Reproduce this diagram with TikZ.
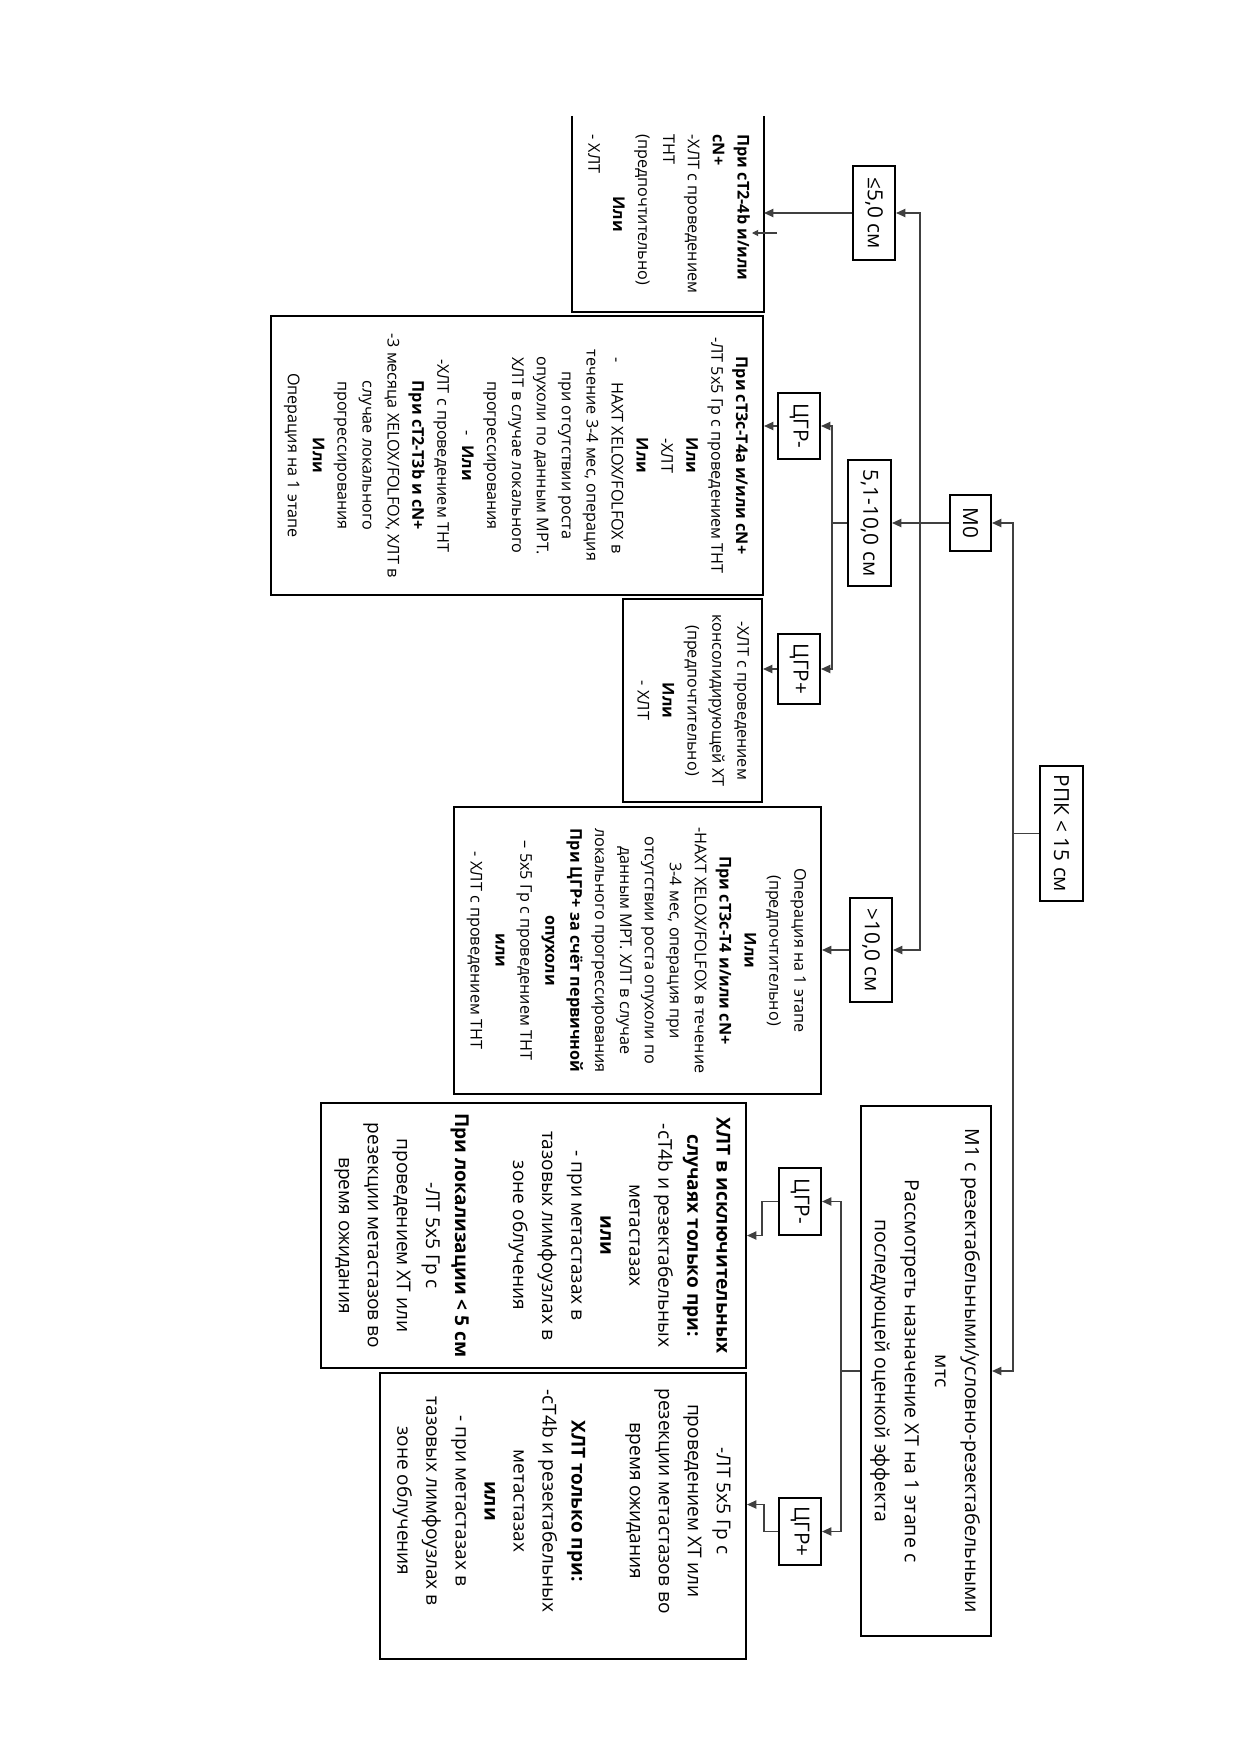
\documentclass[tikz,border=0pt]{standalone}
\usepackage{fontspec}
\setmainfont{Open Sans}
\usepackage{graphicx}
\usetikzlibrary{arrows.meta,calc}
\newlength\PX \setlength\PX{0.16935mm}
\newcommand\rtab[4]{\rotatebox{-90}{\fontsize{#1}{#2}\selectfont\begin{tabular}{@{}#3@{}}#4\end{tabular}}}
\newcommand\lab[1]{\rotatebox{-90}{\fontsize{10}{12}\selectfont #1}}
\begin{document}
\begin{tikzpicture}[x=0.16935mm,y=-0.16935mm,
  bx/.style 2 args={draw,line width=1pt,inner sep=0pt,minimum width=#1*\PX,minimum height=#2*\PX},
  conn/.style={line width=0.6pt,draw=black!75,-{Triangle[length=4.5pt,width=4pt]}},
  ln/.style={line width=0.6pt,draw=black!75}]
\useasboundingbox[fill=white] (0,0) rectangle (1240,1754);

% --- label boxes
\node[bx={43}{135}] (rpk) at (1061.5,833.5) {\lab{РПК < 15 см}};
\node[bx={41}{56}]  (m0)  at (970.5,523) {\lab{M0}};
\node[bx={42}{94}]  (r1)  at (874,213) {\lab{≤5,0 см}};
\node[bx={43}{126}] (r2)  at (869.5,523) {\lab{5,1-10,0 см}};
\node[bx={42}{104}] (r3)  at (871,950) {\lab{>10,0 см}};
\node[bx={42}{66}]  (g1)  at (799,426) {\lab{ЦГР-}};
\node[bx={42}{70}]  (g2)  at (799,669) {\lab{ЦГР+}};
\node[bx={42}{67}]  (g3)  at (800,1201.5) {\lab{ЦГР-}};
\node[bx={42}{67}]  (g4)  at (800,1531.5) {\lab{ЦГР+}};

% --- text boxes
\node[bx={190}{194},draw=none] (A) at (668,214) {\rtab{7.8}{12}{l}{%
\textbf{При cT2-4b и/или}\\
\textbf{cN+}\\
-ХЛТ с проведением\\
ТНТ\\
(предпочтительно)\\
\multicolumn{1}{c}{\textbf{Или}}\\
- ХЛТ}};
\draw[line width=1pt] (A.north west) -- (A.south west) -- (A.south east) -- (A.north east);

\node[bx={492}{279}] (B) at (517,455.5) {\rtab{7.8}{12}{c}{%
\textbf{При cT3c-T4a и/или cN+}\\
-ЛТ 5x5 Гр с проведением ТНТ\\
\textbf{Или}\\
-ХЛТ\\
\textbf{Или}\\
-\hspace{1.2em}НАХТ XELOX/FOLFOX в\\
течение 3-4 мес, операция\\
при отсутствии роста\\
опухоли по данным МРТ.\\
ХЛТ в случае локального\\
прогрессирования\\
-\hspace{0.6em}\textbf{Или}\\
-ХЛТ с проведением ТНТ\\
\textbf{При cT2-T3b и cN+}\\
-3 месяца XELOX/FOLFOX, ХЛТ в\\
случае локального\\
прогрессирования\\
\textbf{Или}\\
Операция на 1 этапе}};

\node[bx={139}{203}] (C) at (692.5,700.5) {\rtab{7.8}{12}{c}{%
-ХЛТ с проведением\\
консолидирующей ХТ\\
(предпочтительно)\\
\textbf{Или}\\
- ХЛТ}};

\node[bx={367}{287}] (D) at (637.5,950.5) {\rtab{7.8}{12}{c}{%
Операция на 1 этапе\\
(предпочтительно)\\
\textbf{Или}\\
\textbf{При cT3c-T4 и/или cN+}\\
-НАХТ XELOX/FOLFOX в течение\\
3-4 мес, операция при\\
отсутствии роста опухоли по\\
данным МРТ. ХЛТ в случае\\
локального прогрессирования\\
\textbf{При ЦГР+ за счёт первичной}\\
\textbf{опухоли}\\
– 5x5 Гр с проведением ТНТ\\
\textbf{или}\\
- ХЛТ с проведением ТНТ}};

\node[bx={130}{530}] (m1) at (926,1371) {\rtab{9.4}{14.5}{c}{%
M1 с резектабельными/условно-резектабельными\\
мтс\\
Рассмотреть назначение ХТ на 1 этапе с\\
последующей оценкой эффекта}};

\node[bx={425}{265}] (E) at (533.5,1235.5) {\rtab{9.2}{14}{c}{%
\textbf{ХЛТ в исключительных}\\
\textbf{случаях только при:}\\
-cT4b и резектабельных\\
метастазах\\
\textbf{или}\\
- при метастазах в\\
тазовых лимфоузлах в\\
зоне облучения\\
\\
\textbf{При локализации < 5 см}\\
-ЛТ 5x5 Гр с\\
проведением ХТ или\\
резекции метастазов во\\
время ожидания}};

\node[bx={366}{286}] (F) at (563,1516) {\rotatebox{-90}{\fontsize{9.2}{14}\selectfont\begin{tabular}{@{}c@{\hspace{30\PX}}}%
-ЛТ 5x5 Гр с\\
проведением ХТ или\\
резекции метастазов во\\
время ожидания\\
\\
\textbf{ХЛТ только при:}\\
-cT4b и резектабельных\\
метастазах\\
\textbf{или}\\
- при метастазах в\\
тазовых лимфоузлах в\\
зоне облучения\end{tabular}}};

% --- connectors
\draw[ln] (rpk.west) -- ++(-26,0) coordinate (t1);
\draw[conn] (t1) |- (m0.east);
\draw[conn] (t1) |- (m1.east);

\draw[conn] (m0.west) -- (r2.east);
\coordinate (t2) at ($(m0.west)+(-29,0)$);
\draw[conn] (t2) |- (r1.east);
\draw[conn] (t2) |- (r3.east);

\draw[conn] (r1.west) -- (r1.west -| A.east);
\coordinate (sa) at (777,233);
\coordinate (sb) at (752,233);
\draw[line width=0.5pt,draw=black!75,-{Triangle[length=3pt,width=3pt]}] (sa) -- (sb);

\draw[ln] (r2.west) -- ++(-15,0) coordinate (t3);
\draw[conn] (t3) |- (g1.east);
\draw[conn] (t3) |- (g2.east);
\draw[conn] (g1.west) -- (g1.west -| B.east);
\draw[conn] (g2.west) -- (g2.west -| C.east);
\draw[conn] (r3.west) -- (r3.west -| D.east);

\draw[ln] (m1.west) -- ++(-19,0) coordinate (t4);
\draw[conn] (t4) |- (g3.east);
\draw[conn] (t4) |- (g4.east);
\coordinate (k3) at ($(g3.west)+(-16,34)$);
\draw[conn] (g3.west) -| (k3) -- (k3 -| E.east);
\coordinate (k4) at ($(g4.west)+(-14,-27)$);
\draw[conn] (g4.west) -| (k4) -- (k4 -| F.east);
\end{tikzpicture}
\end{document}
